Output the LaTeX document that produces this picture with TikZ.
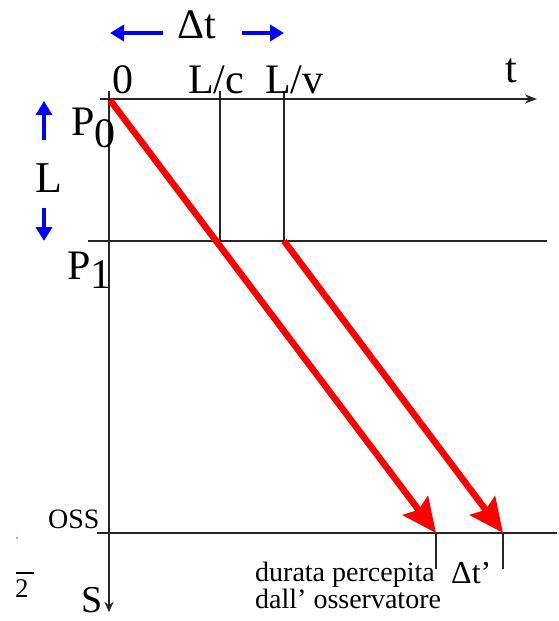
\documentclass[tikz,border=0pt]{standalone}
\usepackage{fontspec}
\setmainfont{Liberation Serif}
\usetikzlibrary{arrows.meta}
\begin{document}
\begin{tikzpicture}[x=1pt,y=-1pt,
  axis/.style={line width=2.1pt, black!85},
  guide/.style={line width=1.8pt, black!85},
  ray/.style={line width=6.5pt, red, -{Stealth[length=34pt,width=31pt,inset=5pt]}},
  bluearrow/.style={line width=4pt, blue, -{Triangle[length=14pt,width=16pt]}},
  big/.style={font=\fontsize{42}{42}\selectfont, inner sep=0pt, anchor=base west},
  small/.style={font=\fontsize{28}{25}\selectfont, inner sep=0pt, anchor=base west}]
\useasboundingbox (0,0) rectangle (558,621);
% coordinates
\coordinate (top) at (109,91);
\coordinate (Send) at (109,612);
\coordinate (tstart) at (100,99);
\coordinate (tend) at (537,99);
\coordinate (c0) at (220,91);
\coordinate (c1) at (220,241);
\coordinate (v0) at (284,91);
\coordinate (v1) at (284,241);
\coordinate (p1a) at (88,241);
\coordinate (p1b) at (547,241);
\coordinate (ossa) at (97,533);
\coordinate (ossb) at (557,533);
\coordinate (h1) at (436,533);
\coordinate (h1b) at (436,569);
\coordinate (h2) at (503,533);
\coordinate (h2b) at (503,569);
\coordinate (r1) at (110,100);
\coordinate (bl1) at (163,33);
\coordinate (bl2) at (110,33);
\coordinate (br1) at (242,33);
\coordinate (br2) at (284,33);
\coordinate (bu1) at (44,140);
\coordinate (bu2) at (44,101);
\coordinate (bd1) at (44,208);
\coordinate (bd2) at (44,241);
% axes and guide lines
\draw[axis, -{Stealth[length=10pt,width=9pt]}] (top) -- (Send);
\draw[axis, -{Stealth[length=12pt,width=9pt]}] (tstart) -- (tend);
\draw[guide] (c0) -- (c1);
\draw[guide] (v0) -- (v1);
\draw[guide] (p1a) -- (p1b);
\draw[guide] (ossa) -- (ossb);
\draw[guide] (h1) -- (h1b);
\draw[guide] (h2) -- (h2b);
% red rays
\draw[ray] (r1) -- (h1);
\draw[ray] (v1) -- (h2);
% blue arrows
\draw[bluearrow] (bl1) -- (bl2);
\draw[bluearrow] (br1) -- (br2);
\draw[bluearrow] (bu1) -- (bu2);
\draw[bluearrow] (bd1) -- (bd2);
% labels
\node[big] (dt) at (177,38) {Δt};
\node[big] (zero) at (112,93) {0};
\node[big] (lc) at (188,93) {L/c};
\node[big] (lv) at (265,93) {L/v};
\node[big] (tl) at (505,82) {t};
\node[big] (p0) at (71,135) {P\raisebox{-12pt}{0}};
\node[big, font=\fontsize{44}{44}\selectfont] (ll) at (35,192) {L};
\node[big] (p1) at (67,279) {P\raisebox{-9pt}{1}};
\node[small] (oss) at (48,528) {OSS};
\node[big, font=\fontsize{38}{38}\selectfont] (s) at (81,612) {S};
\node[small, align=left] (dur) at (255,608) {durata percepita\\dall’ osservatore};
\node[big, font=\fontsize{32}{32}\selectfont] (dtp) at (451,583) {Δt’};
% stray fragment at left edge
\node[small, font=\fontsize{27}{27}\selectfont] (frag) at (15,597) {2};
\coordinate (fa) at (16,573);
\coordinate (fb) at (34,573);
\draw[line width=1.6pt] (fa) -- (fb);
\fill[blue!60] (17,538) circle (1pt);
\end{tikzpicture}
\end{document}
